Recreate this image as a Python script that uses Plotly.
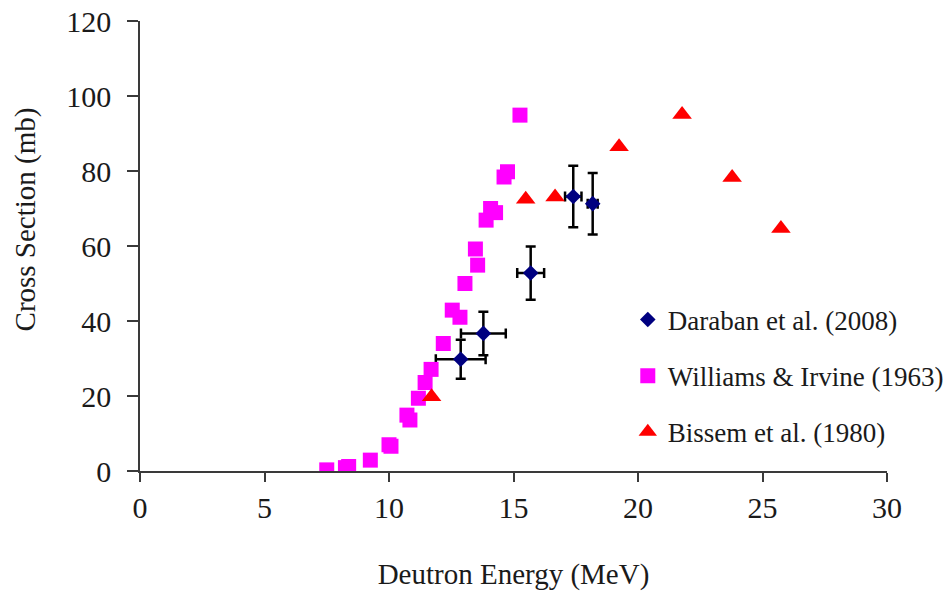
import plotly.graph_objects as go

# Daraban et al. (2008): energy, cross section and uncertainties
daraban_e = [12.88, 13.79, 15.69, 17.40, 18.18]
daraban_xs = [29.8, 36.7, 52.8, 73.2, 71.3]
daraban_de = [1.0, 0.9, 0.54, 0.33, 0.2]
daraban_dxs = [5.2, 5.8, 7.1, 8.2, 8.2]

# Williams & Irvine (1963)
williams_e = [7.50, 8.25, 8.38, 9.25, 10.00, 10.08, 10.72, 10.84, 11.18, 11.45,
              11.69, 12.18, 12.54, 12.85, 13.05, 13.47, 13.56, 13.90, 14.08,
              14.28, 14.62, 14.76, 15.26]
williams_xs = [0.3, 0.9, 1.2, 2.9, 7.0, 6.6, 14.9, 13.6, 19.4, 23.6,
               27.1, 34.0, 42.9, 41.0, 50.0, 59.2, 54.9, 66.9, 70.0,
               68.9, 78.4, 79.8, 94.9]

# Bissem et al. (1980)
bissem_e = [11.71, 15.49, 16.67, 19.24, 21.77, 23.78, 25.74]
bissem_xs = [19.8, 72.5, 73.1, 86.5, 95.1, 78.3, 64.7]

x_ticks = [0, 5, 10, 15, 20, 25, 30]
y_ticks = [0, 20, 40, 60, 80, 100, 120]

FONT = "Times New Roman, Liberation Serif, serif"
TEXT = "#1a1a1a"
AXIS = "#3a3a3a"
TICK_SIZE = 30
TITLE_SIZE = 29
LEGEND_SIZE = 27

fig = go.Figure()

fig.add_trace(go.Scatter(
    x=daraban_e, y=daraban_xs, mode="markers", name="Daraban et al. (2008)",
    legendgroup="a",
    marker=dict(symbol="diamond", size=12, color="#000080"),
    error_x=dict(type="data", array=daraban_de, color="black", thickness=2.5, width=5),
    error_y=dict(type="data", array=daraban_dxs, color="black", thickness=2.5, width=5),
))

fig.add_trace(go.Scatter(
    x=williams_e, y=williams_xs, mode="markers", name="Williams & Irvine (1963)",
    legendgroup="b",
    marker=dict(symbol="square", size=15, color="#FF00FF"),
))

fig.add_trace(go.Scatter(
    x=bissem_e, y=bissem_xs, mode="markers", name="Bissem et al. (1980)",
    legendgroup="c",
    marker=dict(symbol="triangle-up", size=17, color="#FF0000"),
))

fig.update_layout(
    width=947, height=593,
    margin=dict(l=140, r=60, t=21, b=122, autoexpand=False),
    paper_bgcolor="white", plot_bgcolor="white",
    font=dict(family=FONT, size=TITLE_SIZE, color=TEXT),
    showlegend=True,
    legend=dict(
        x=0.653, y=0.39, xanchor="left", yanchor="top",
        font=dict(family=FONT, size=LEGEND_SIZE, color=TEXT),
        tracegroupgap=18, itemwidth=30, bgcolor="rgba(0,0,0,0)",
    ),
    xaxis=dict(
        range=[0, 30], tickvals=x_ticks, ticktext=[str(v) for v in x_ticks],
        showgrid=False, zeroline=False, showline=True, linecolor=AXIS, linewidth=1.5,
        ticks="outside", ticklen=9, tickwidth=1.5, tickcolor=AXIS,
        tickfont=dict(family=FONT, size=TICK_SIZE, color=TEXT),
        title=dict(text="Deutron Energy (MeV)", standoff=41,
                   font=dict(family=FONT, size=TITLE_SIZE, color=TEXT)),
    ),
    yaxis=dict(
        range=[0, 120], tickvals=y_ticks, ticktext=[str(v) for v in y_ticks],
        showgrid=False, zeroline=False, showline=True, linecolor=AXIS, linewidth=1.5,
        ticks="outside", ticklen=11, tickwidth=1.5, tickcolor=AXIS,
        tickfont=dict(family=FONT, size=TICK_SIZE, color=TEXT),
        ticklabelstandoff=10,
    ),
    annotations=[dict(
        text="Cross Section (mb)", textangle=-90, xref="paper", yref="paper",
        x=-0.152, y=0.56, xanchor="center", yanchor="middle", showarrow=False,
        font=dict(family=FONT, size=TITLE_SIZE, color=TEXT),
    )],
)

fig.write_html("out.html")
